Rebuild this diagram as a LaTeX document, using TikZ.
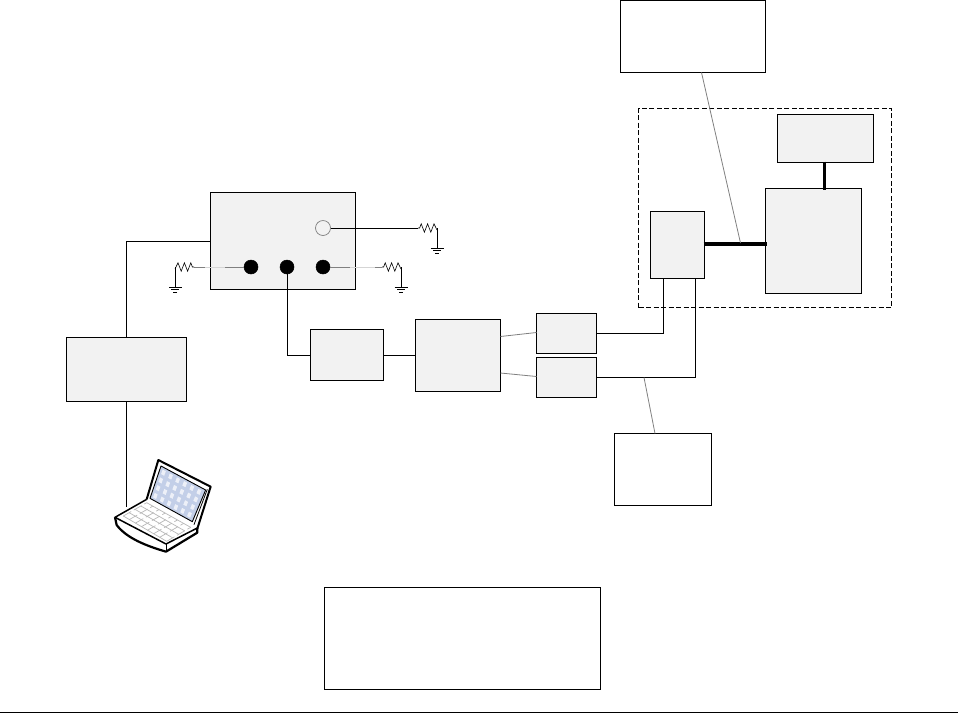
\documentclass[tikz,border=0pt]{standalone}
\usetikzlibrary{calc}
\definecolor{boxfill}{HTML}{F2F2F2}
\definecolor{wiregray}{HTML}{808080}
\definecolor{screenblue}{HTML}{C3CFE8}
\tikzset{
  base/.style={draw=black,line width=1pt,inner sep=0pt,outer sep=0pt,rectangle},
  gbox/.style={base,fill=boxfill},
  wbox/.style={base,fill=white},
  wire/.style={draw=black,line width=1pt},
  thin wire/.style={draw=wiregray,line width=0.8pt},
  bus/.style={draw=black,line width=3.4pt,shorten <=-1pt,shorten >=-1pt},
  pin/.style={circle,fill=black,draw=black,line width=0.5pt,minimum size=14pt,inner sep=0pt,outer sep=0pt},
  open pin/.style={circle,fill=boxfill,draw=wiregray,line width=0.7pt,minimum size=15pt,inner sep=0pt,outer sep=0pt},
  resgnd/.pic={
    \draw[line width=0.6pt,black] (0,0) -- (1.6,0) -- (3.2,-4.2) -- (6.4,4.2) -- (9.6,-4.2) -- (12.8,4.2) -- (16,-4.2) -- (19,2);
    \draw[wire] (19,0) -- (19,20);
    \draw[line width=0.9pt,black] (12.5,20.3) -- (25.5,20.3);
    \draw[line width=0.9pt,black] (15,22.8) -- (23,22.8);
    \draw[line width=0.9pt,black] (17,25.2) -- (21,25.2);
  }
}
\begin{document}
\begin{tikzpicture}[x=1pt,y=-1pt]
\useasboundingbox (0,0) rectangle (958,713);
% dashed enclosure
\node[draw=black,line width=1pt,dash pattern=on 5pt off 2.5pt,inner sep=0pt,outer sep=0pt,minimum width=253pt,minimum height=199.5pt] (encl) at (765,207.75) {};
% boxes
\node[wbox,minimum width=145pt,minimum height=72.5pt] (topw) at (693,36.25) {};
\node[gbox,minimum width=96pt,minimum height=48pt] (tr) at (825.5,138.5) {};
\node[gbox,minimum width=96pt,minimum height=105pt] (big) at (813.5,241) {};
\node[gbox,minimum width=54pt,minimum height=67pt] (small) at (677.5,245) {};
\node[gbox,minimum width=60pt,minimum height=40pt] (ba) at (566.5,333.5) {};
\node[gbox,minimum width=60pt,minimum height=40pt] (bb) at (566.5,377.5) {};
\node[wbox,minimum width=97pt,minimum height=72pt] (botw) at (663,469.5) {};
\node[gbox,minimum width=85pt,minimum height=72pt] (mid) at (458,355.5) {};
\node[gbox,minimum width=73pt,minimum height=51pt] (conv) at (347,355) {};
\node[gbox,minimum width=145pt,minimum height=97pt] (main) at (283,241) {};
\node[gbox,minimum width=120pt,minimum height=64pt] (left) at (126.5,369.5) {};
\node[wbox,minimum width=276pt,minimum height=102pt] (legend) at (462.5,638.5) {};
% pins
\node[pin] (p1) at (251,267) {};
\node[pin] (p2) at (287,267) {};
\node[pin] (p3) at (323,267) {};
\node[open pin] (p4) at (323,228) {};
% free ends
\coordinate (rt) at (418,228);
\coordinate (rl) at (194,267);
\coordinate (rr) at (382,267);
\coordinate (lap) at (126.5,507);
\coordinate (busy) at (700,244);
\coordinate (busx) at (824.3,170);
\coordinate (tapA) at (740.5,243);
\coordinate (tapAs) at (701.5,72.5);
\coordinate (tapB) at (644,377.5);
\coordinate (tapBs) at (655,433.5);
\coordinate (sa) at (663.5,278.5);
\coordinate (sb) at (695.5,278.5);
% connectors
\draw[wire] (left.north) |- (main.west);
\draw[wire] (left.south) -- (lap);
\draw[wire] (p2.center) |- (conv.west);
\draw[wire] (conv.east) -- (mid.west |- conv.east);
\draw[wire] (p4.east) -- (rt);
\draw[thin wire] (p1.west) -- (rl);
\draw[draw=boxfill!75!wiregray,line width=1pt] (225,267) -- (205,267);
\draw[thin wire] (p3.east) -- (rr);
\draw[draw=boxfill!75!wiregray,line width=1pt] (350,267) -- (375,267);
\draw[thin wire] (mid.east |- 0,336.5) -- (ba.west |- 0,332.5);
\draw[thin wire] (mid.east |- 0,373) -- (bb.west |- 0,376.5);
\draw[wire] (ba.east) -| (sa);
\draw[wire] (bb.east) -| (sb);
\draw[bus] (small.east |- busy) -- (big.west |- busy);
\draw[bus] (tr.south -| busx) -- (big.north -| busx);
\draw[thin wire] (tapAs) -- (tapA);
\draw[thin wire] (tapB) -- (tapBs);
% resistors with ground
\pic at (rt) {resgnd};
\pic at (rr) {resgnd};
\pic[xscale=-1] at (rl) {resgnd};
% bottom rule
\draw[draw=black,line width=1pt] (0,712.3) coordinate (ruleL) -- (958,712.3) coordinate (ruleR);
% laptop
\begin{scope}[shift={(90pt,-440pt)},x=0.3333pt,y=-0.3333pt,line join=round]
  % base
  \fill[white] (75,232) -- (170,178) -- (322,262) -- (322,272) -- (228,335) .. controls (170,318) and (110,295) .. (80,255) -- cycle;
  % keyboard
  \coordinate (ka) at (100,228);
  \coordinate (kb) at (170,188);
  \coordinate (kc) at (302,262);
  \coordinate (kd) at (230,304);
  \foreach \t in {0,0.25,0.5,0.75,1}
    \draw[black!28,line width=0.7pt] ($(ka)!\t!(kb)$) -- ($(kd)!\t!(kc)$);
  \foreach \t in {0,0.14,0.28,0.42,0.56,0.7,0.84,1}
    \draw[black!28,line width=0.7pt,dash pattern=on 9pt off 3pt] ($(ka)!\t!(kd)$) -- ($(kb)!\t!(kc)$);
  % lid
  \draw[white,fill=white] (205,60) -- (362,140) -- (322,266) -- (170,178) -- cycle;
  \coordinate (sa1) at (213,78);
  \coordinate (sb1) at (347,150);
  \coordinate (sc1) at (307,245);
  \coordinate (sd1) at (180,175);
  \fill[screenblue] (sa1) -- (sb1) -- (sc1) -- (sd1) -- cycle;
  \foreach \u in {0.09,0.25,0.41,0.57,0.73,0.89}
    \foreach \v in {0.14,0.38,0.62,0.86}
      \fill[white,opacity=0.7] ($($(sa1)!\u-0.035!(sb1)$)!\v-0.07!($(sd1)!\u-0.035!(sc1)$)$)
        -- ($($(sa1)!\u+0.035!(sb1)$)!\v-0.07!($(sd1)!\u+0.035!(sc1)$)$)
        -- ($($(sa1)!\u+0.035!(sb1)$)!\v+0.07!($(sd1)!\u+0.035!(sc1)$)$)
        -- ($($(sa1)!\u-0.035!(sb1)$)!\v+0.07!($(sd1)!\u-0.035!(sc1)$)$) -- cycle;
  \draw[black,line width=0.9pt] (sa1) -- (sb1) -- (sc1) -- (sd1) -- cycle;
  \draw[black,line width=0.8pt] (352,148) -- (312,254);
  \draw[black,line width=2pt] (170,178) -- (205,60) -- (362,140) -- (322,266);
  % base outline
  \draw[black,line width=1.5pt] (170,178) -- (75,232) -- (228,312) -- (322,264);
  \draw[black,line width=2.2pt] (75,232) -- (80,255) .. controls (110,295) and (170,318) .. (228,335) -- (322,278) -- (322,264);
  \draw[black,line width=0.9pt] (228,312) -- (228,335);
\end{scope}
\end{tikzpicture}
\end{document}
